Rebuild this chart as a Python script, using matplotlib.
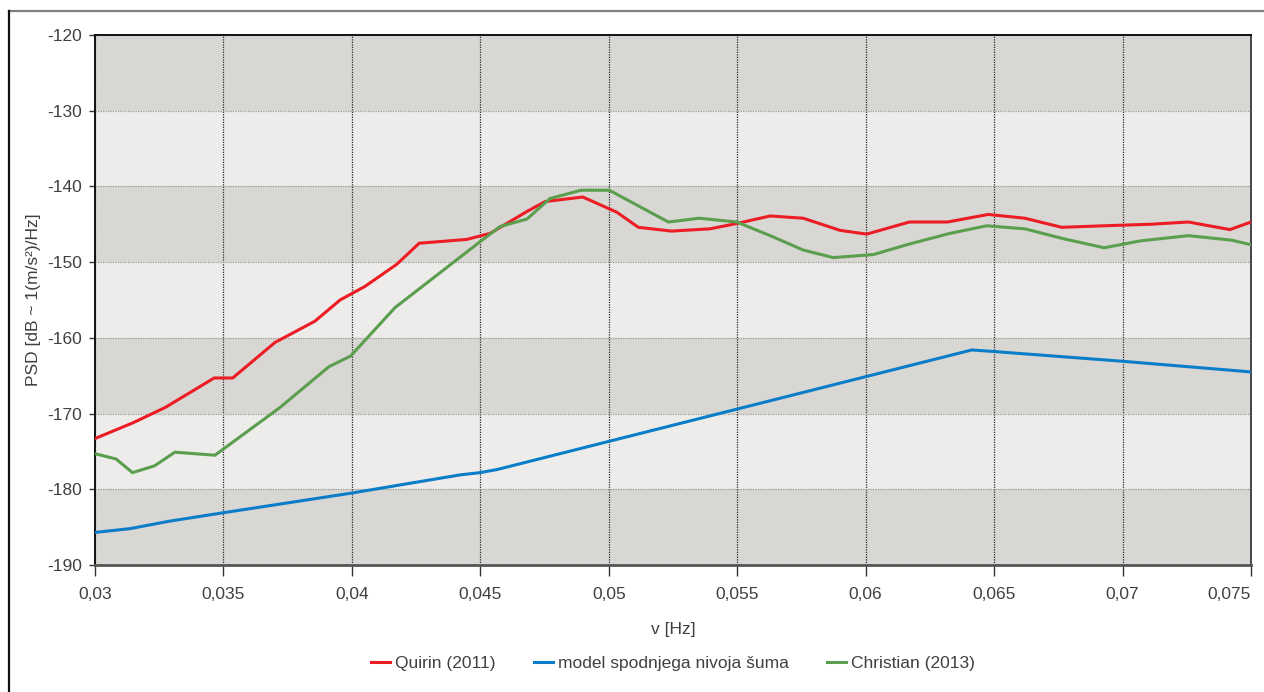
import matplotlib
matplotlib.use("Agg")
import matplotlib.pyplot as plt
from matplotlib.lines import Line2D
from matplotlib.ticker import FuncFormatter

# Frequency / PSD data
quirin_x = [0.0300, 0.03085, 0.03149, 0.03273, 0.03464, 0.03536, 0.03701, 0.03856,
            0.03954, 0.04051, 0.04174, 0.04262, 0.04447, 0.04538, 0.04682, 0.04752,
            0.04899, 0.05031, 0.05115, 0.05245, 0.05394, 0.05498, 0.05628, 0.05757,
            0.05900, 0.06004, 0.06170, 0.06318, 0.06477, 0.06620, 0.06763, 0.06925,
            0.07107, 0.07256, 0.07418, 0.0750]
quirin_y = [-173.3, -172.1, -171.2, -169.2, -165.3, -165.3, -160.6, -157.8,
            -155.0, -153.2, -150.3, -147.5, -147.0, -146.2, -143.3, -142.0,
            -141.4, -143.4, -145.4, -145.9, -145.6, -144.9, -143.9, -144.2,
            -145.8, -146.3, -144.7, -144.7, -143.7, -144.2, -145.4, -145.2,
            -145.0, -144.7, -145.7, -144.7]

model_x = [0.0300, 0.03136, 0.03292, 0.03499, 0.03999, 0.04421, 0.04499, 0.04564,
           0.06413, 0.06497, 0.07003, 0.0750]
model_y = [-185.7, -185.2, -184.2, -183.1, -180.5, -178.1, -177.8, -177.4,
           -161.6, -161.8, -163.1, -164.5]

christian_x = [0.0300, 0.03082, 0.03146, 0.03232, 0.03311, 0.03467, 0.03720, 0.03911,
               0.03995, 0.04168, 0.04499, 0.04577, 0.04682, 0.04771, 0.04892, 0.05002,
               0.05232, 0.05352, 0.05498, 0.05628, 0.05757, 0.05874, 0.06030, 0.06160,
               0.06328, 0.06471, 0.06620, 0.06769, 0.06928, 0.07068, 0.07256, 0.07425,
               0.0750]
christian_y = [-175.3, -176.0, -177.8, -176.9, -175.1, -175.5, -169.2, -163.8,
               -162.4, -156.0, -147.3, -145.3, -144.3, -141.6, -140.5, -140.5,
               -144.7, -144.2, -144.7, -146.5, -148.4, -149.4, -149.0, -147.7,
               -146.2, -145.2, -145.6, -146.9, -148.1, -147.2, -146.5, -147.1,
               -147.7]

series_labels = ["Quirin (2011)", "model spodnjega nivoja šuma", "Christian (2013)"]
series_colors = ["#ec1c24", "#0a7dc9", "#5a9e4e"]

y_ticks = list(range(-190, -119, 10))
x_ticks = [0.03, 0.035, 0.04, 0.045, 0.05, 0.055, 0.06, 0.065, 0.07, 0.075]

plt.rcParams["font.family"] = ["Liberation Sans", "DejaVu Sans"]
plt.rcParams["axes.unicode_minus"] = False

TEXT = "#404040"
FS = 12.5
W, H = 1264, 692
fig = plt.figure(figsize=(W / 100, H / 100), dpi=100)
ax = fig.add_axes([95 / W, 1 - 565 / H, (1251 - 95) / W, (565 - 35) / H])

# alternating horizontal bands
for i, lo in enumerate(y_ticks[:-1]):
    shade = "#d8d7d3" if i % 2 == 0 else "#edecea"
    ax.axhspan(lo, lo + 10, color=shade, zorder=0.5, lw=0)

ax.set_axisbelow("line")
ax.yaxis.grid(True, color="#9a9a9a", lw=0.9, ls=(0, (1, 1)))
ax.xaxis.grid(True, color="#2a2a2a", lw=0.9, ls=(0, (1, 1)))

for xs, ys, lab, col in zip([quirin_x, model_x, christian_x],
                            [quirin_y, model_y, christian_y],
                            series_labels, series_colors):
    ax.plot(xs, ys, color=col, lw=2.2, label=lab, zorder=3, solid_joinstyle="miter")

ax.set_xlim(0.03, 0.075)
ax.set_ylim(-190, -120)
ax.set_xticks(x_ticks)
ax.set_yticks(y_ticks)
ax.xaxis.set_major_formatter(FuncFormatter(lambda v, p: f"{round(v, 3):g}".replace(".", ",")))
ax.yaxis.set_major_formatter(FuncFormatter(lambda v, p: f"{int(round(v))}"))

ax.tick_params(axis="x", length=8, width=1, color="#333333", pad=8,
               labelsize=FS, labelcolor=TEXT)
ax.tick_params(axis="y", length=4, width=1, color="#333333", pad=5,
               labelsize=FS, labelcolor=TEXT)

# the last frequency label sits flush with the right edge of the plot
fig.canvas.draw()
ax.get_xticklabels()[-1].set_horizontalalignment("right")

for side, col, lw in [("left", "#111111", 1.4), ("top", "#111111", 1.4),
                      ("right", "#444444", 1.4), ("bottom", "#555555", 2.0)]:
    ax.spines[side].set_color(col)
    ax.spines[side].set_linewidth(lw)

ax.set_xlabel("v [Hz]", fontsize=FS, color=TEXT, labelpad=14)
ax.set_ylabel("PSD [dB ~ 1(m/s²)/Hz]", fontsize=FS, color=TEXT, labelpad=5)

leg = ax.legend(loc="center", bbox_to_anchor=(673 / W, 1 - 663 / H),
                bbox_transform=fig.transFigure, ncol=3, frameon=False,
                fontsize=FS, handlelength=1.1, handletextpad=0.3,
                columnspacing=2.2, borderaxespad=0)
for t in leg.get_texts():
    t.set_color(TEXT)
for h in leg.legend_handles:
    h.set_linewidth(2.2)

# outer frame lines
fig.add_artist(Line2D([9 / W, 1], [1 - 11 / H, 1 - 11 / H], color="#808080",
                      lw=1.6, transform=fig.transFigure))
fig.add_artist(Line2D([9 / W, 9 / W], [0, 1 - 11 / H], color="#111111",
                      lw=1.6, transform=fig.transFigure))

fig.savefig("out.png", dpi=100, facecolor="white")
